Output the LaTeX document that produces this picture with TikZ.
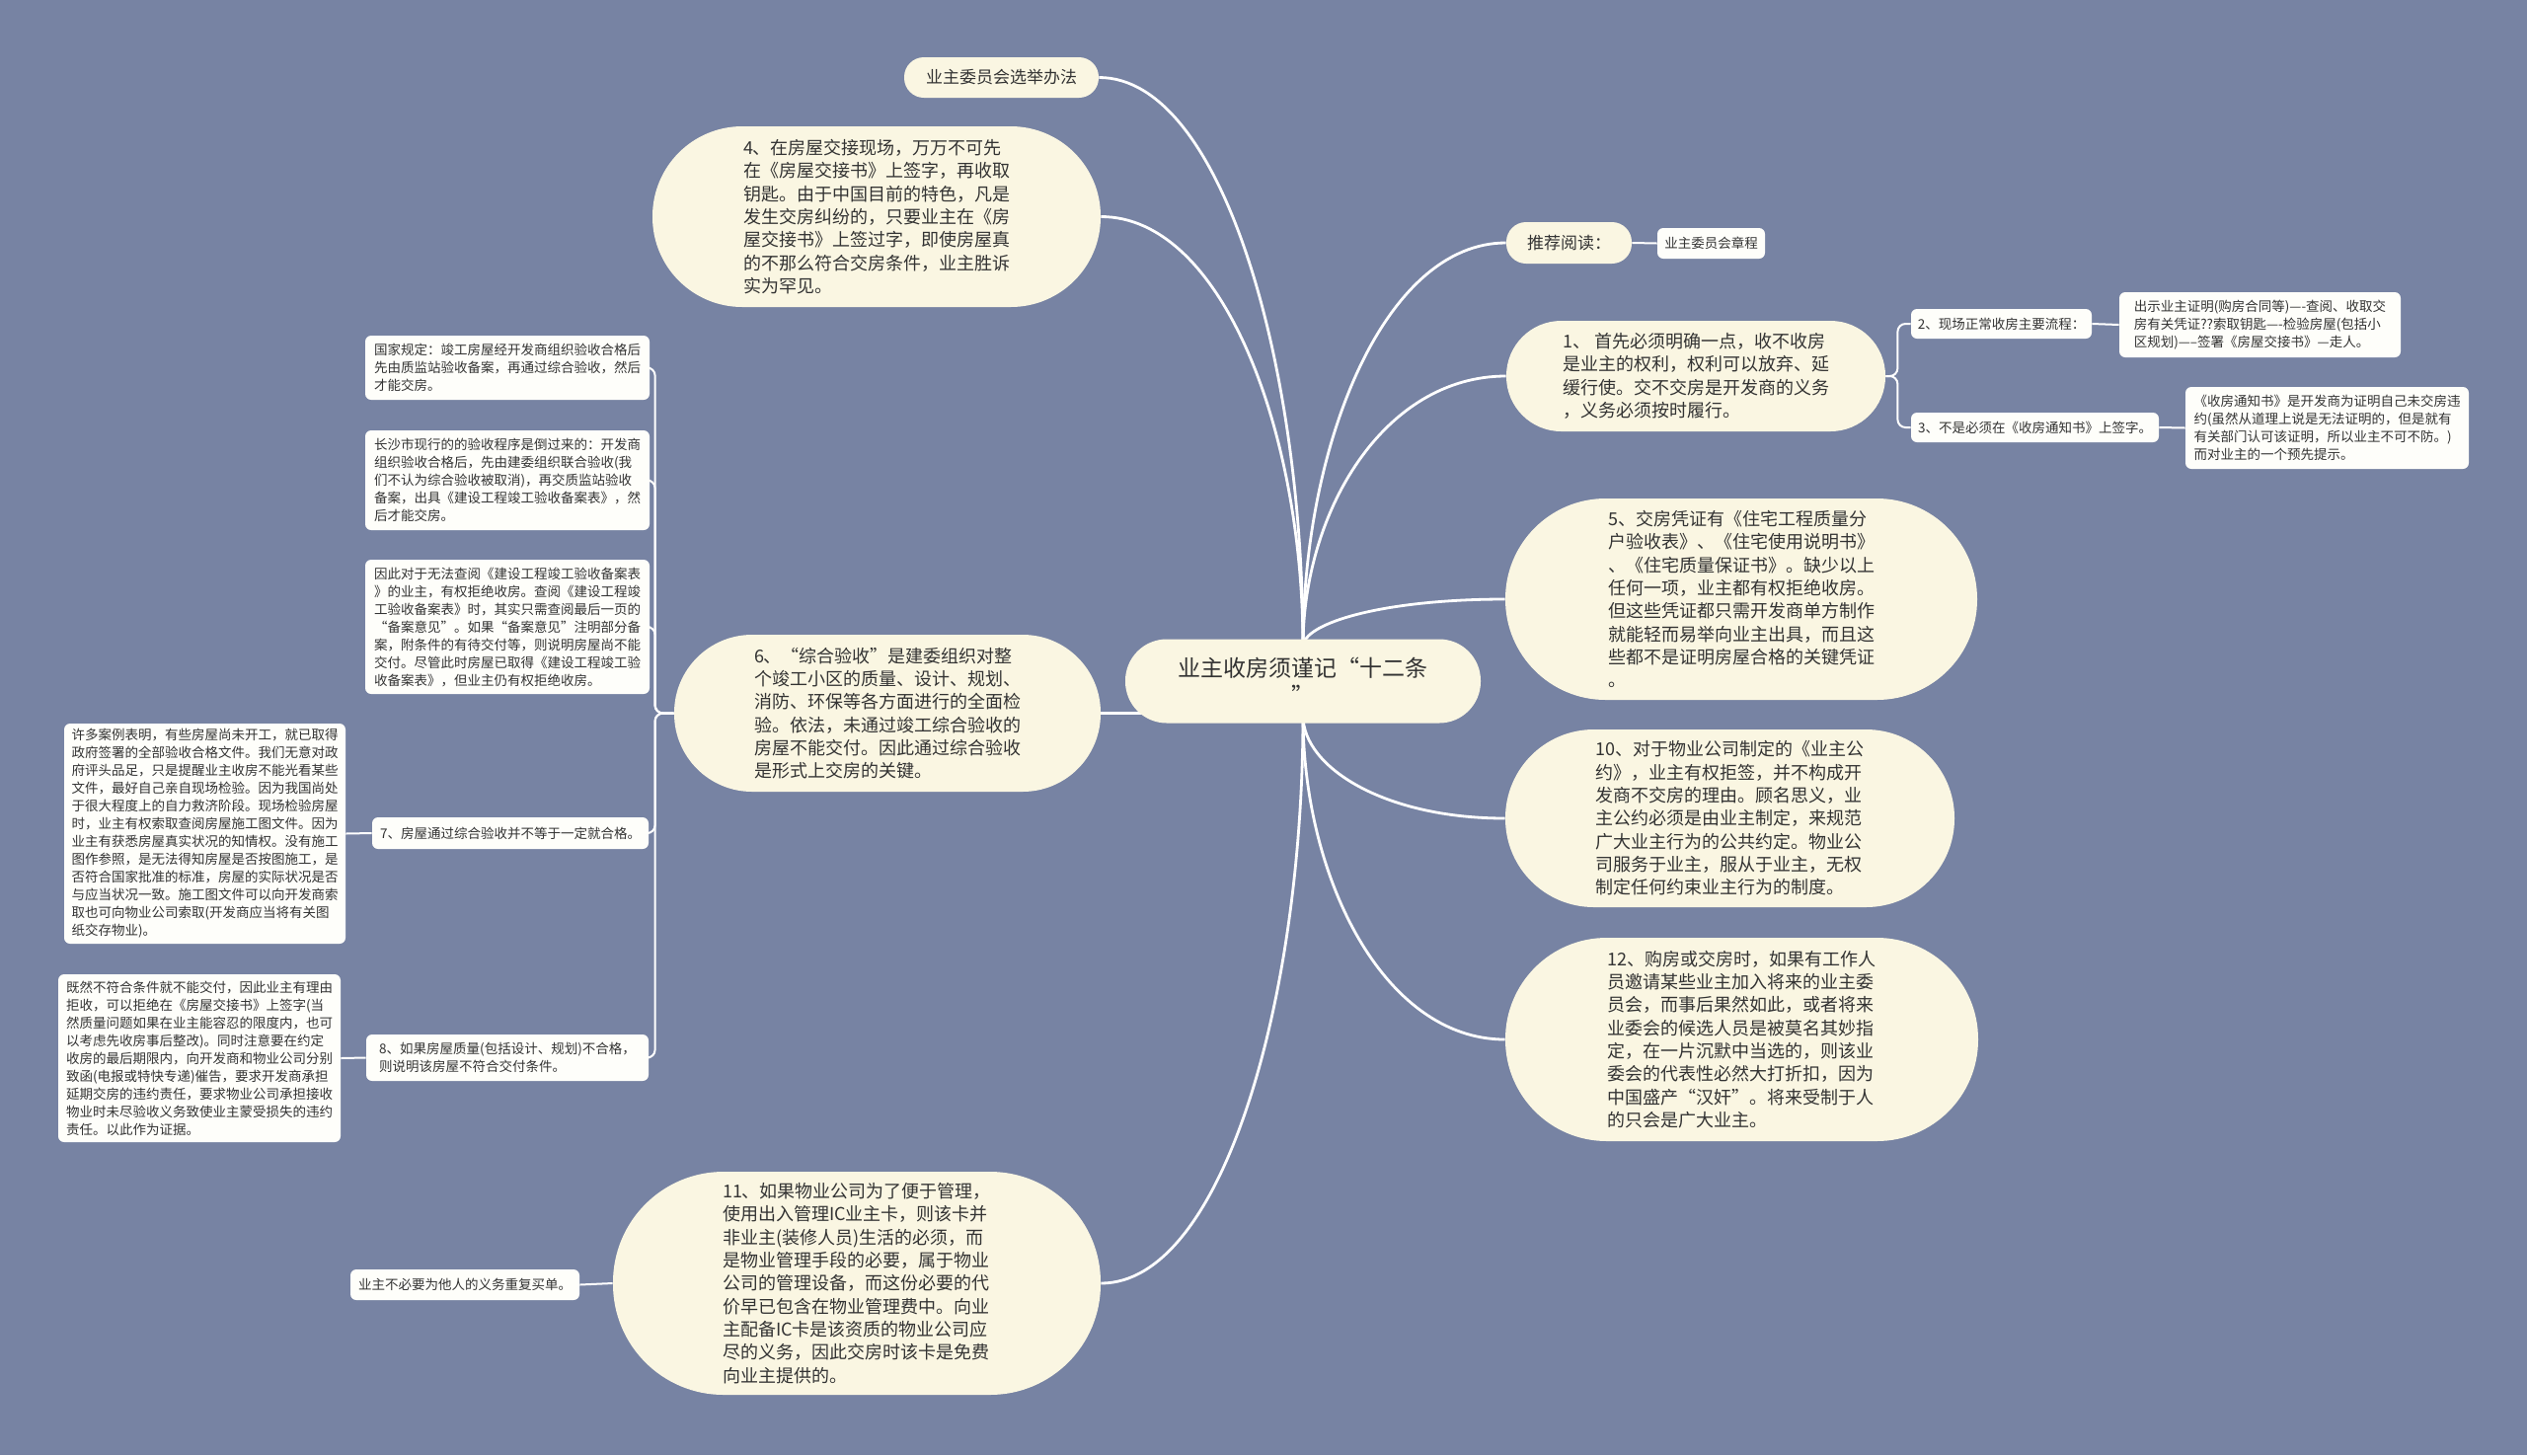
\documentclass[tikz,border=0pt]{standalone}
\usepackage{fontspec}
\setmainfont{Noto Sans CJK SC}
\newfontfamily\cjkfw[RawFeature=+fwid]{Noto Sans CJK SC}
\usetikzlibrary{calc,backgrounds}
\definecolor{bgcol}{RGB}{119,131,163}
\definecolor{capcol}{RGB}{250,246,226}
\definecolor{leafcol}{RGB}{254,254,250}
\definecolor{txtcol}{RGB}{51,51,51}
\newcommand{\fwq}[1]{{\cjkfw #1}}
\newcommand{\mcurve}[2]{\draw[mainline] (#1) .. controls ($(#1)!0.5!(#1|-#2)$) and ($(#2)!0.6!(#2-|#1)$) .. (#2);}
\begin{document}
\begin{tikzpicture}[x=0.5pt,y=-0.5pt,
 capsule/.style={fill=capcol,text=txtcol,align=left,inner sep=0pt,font=\fontsize{9}{11.67}\selectfont},
 smallcap/.style={fill=capcol,text=txtcol,align=center,inner sep=0pt,font=\fontsize{8.5}{10}\selectfont},
 leaf/.style={fill=leafcol,text=txtcol,align=left,inner sep=0pt,rounded corners=3pt,font=\fontsize{6.75}{9}\selectfont},
 mainline/.style={draw=white,line width=1.4pt},
 subline/.style={draw=white,line width=1pt,rounded corners=4pt},
]
\useasboundingbox (0,0) rectangle (2560,1474);

% center
\node[fill=capcol,text=txtcol,align=center,inner sep=0pt,font=\fontsize{11.5}{14}\selectfont,
  minimum width=180pt,minimum height=42.5pt,rounded corners=21pt] (c) at (1320,690)
  {业主收房须谨记\fwq{“}十二条\\\fwq{”}};

% left capsules
\node[smallcap,minimum width=98.5pt,minimum height=20.5pt,rounded corners=10pt] (vote) at (1014.5,78.5) {业主委员会选举办法};
\node[capsule,minimum width=227pt,minimum height=91.5pt,rounded corners=45.5pt] (n4) at (888,219.5)
 {4、在房屋交接现场，万万不可先\\在《房屋交接书》上签字，再收取\\钥匙。由于中国目前的特色，凡是\\发生交房纠纷的，只要业主在《房\\屋交接书》上签过字，即使房屋真\\的不那么符合交房条件，业主胜诉\\实为罕见。};
\node[capsule,minimum width=216pt,minimum height=79.5pt,rounded corners=39.5pt] (n6) at (899,722.5)
 {6、\fwq{“}综合验收\fwq{”}是建委组织对整\\个竣工小区的质量、设计、规划、\\消防、环保等各方面进行的全面检\\验。依法，未通过竣工综合验收的\\房屋不能交付。因此通过综合验收\\是形式上交房的关键。};
\node[capsule,minimum width=247pt,minimum height=113pt,rounded corners=56pt] (n11) at (868,1300)
 {11、如果物业公司为了便于管理，\\使用出入管理IC业主卡，则该卡并\\非业主(装修人员)生活的必须，而\\是物业管理手段的必要，属于物业\\公司的管理设备，而这份必要的代\\价早已包含在物业管理费中。向业\\主配备IC卡是该资质的物业公司应\\尽的义务，因此交房时该卡是免费\\向业主提供的。};

% right capsules
\node[smallcap,minimum width=63.5pt,minimum height=21pt,rounded corners=10pt] (read) at (1589.5,246) {推荐阅读：};
\node[capsule,minimum width=192pt,minimum height=56pt,rounded corners=27.8pt] (n1) at (1718,381)
 {1、 首先必须明确一点，收不收房\\是业主的权利，权利可以放弃、延\\缓行使。交不交房是开发商的义务\\，义务必须按时履行。};
\node[capsule,minimum width=239pt,minimum height=102pt,rounded corners=50.8pt] (n5) at (1764,607)
 {5、交房凭证有《住宅工程质量分\\户验收表》、《住宅使用说明书》\\、《住宅质量保证书》。缺少以上\\任何一项，业主都有权拒绝收房。\\但这些凭证都只需开发商单方制作\\就能轻而易举向业主出具，而且这\\些都不是证明房屋合格的关键凭证\\。};
\node[capsule,minimum width=227.5pt,minimum height=90pt,rounded corners=44.8pt] (n10) at (1752.5,829)
 {10、对于物业公司制定的《业主公\\约》，业主有权拒签，并不构成开\\发商不交房的理由。顾名思义，业\\主公约必须是由业主制定，来规范\\广大业主行为的公共约定。物业公\\司服务于业主，服从于业主，无权\\制定任何约束业主行为的制度。};
\node[capsule,minimum width=239.5pt,minimum height=103pt,rounded corners=51.3pt] (n12) at (1764.5,1053)
 {12、购房或交房时，如果有工作人\\员邀请某些业主加入将来的业主委\\员会，而事后果然如此，或者将来\\业委会的候选人员是被莫名其妙指\\定，在一片沉默中当选的，则该业\\委会的代表性必然大打折扣，因为\\中国盛产\fwq{“}汉奸\fwq{”}。将来受制于人\\的只会是广大业主。};

% right leaves
\node[leaf,minimum width=54.5pt,minimum height=15.5pt] (zc) at (1733.5,246.5) {业主委员会章程};
\node[leaf,minimum width=91.5pt,minimum height=15pt] (l2) at (2027.5,328) {2、现场正常收房主要流程：};
\node[leaf,minimum width=142.5pt,minimum height=33pt] (l2a) at (2289.5,329)
 {出示业主证明(购房合同等)----查阅、收取交\\房有关凭证??索取钥匙----检验房屋(包括小\\区规划)-----签署《房屋交接书》---走人。};
\node[leaf,minimum width=125.5pt,minimum height=15pt] (l3) at (2061.5,433) {3、不是必须在《收房通知书》上签字。};
\node[leaf,minimum width=143.5pt,minimum height=41.5pt] (l3a) at (2357.5,433.5)
 {《收房通知书》是开发商为证明自己未交房违\\约(虽然从道理上说是无法证明的，但是就有\\有关部门认可该证明，所以业主不可不防。)\\而对业主的一个预先提示。};

% left leaves
\node[leaf,minimum width=144pt,minimum height=32.5pt] (A) at (514,372.5)
 {国家规定：竣工房屋经开发商组织验收合格后\\先由质监站验收备案，再通过综合验收，然后\\才能交房。};
\node[leaf,minimum width=144pt,minimum height=50.5pt] (B) at (514,486.5)
 {长沙市现行的的验收程序是倒过来的：开发商\\组织验收合格后，先由建委组织联合验收(我\\们不认为综合验收被取消)，再交质监站验收\\备案，出具《建设工程竣工验收备案表》，然\\后才能交房。};
\node[leaf,minimum width=144pt,minimum height=68pt] (C) at (514,635)
 {因此对于无法查阅《建设工程竣工验收备案表\\》的业主，有权拒绝收房。查阅《建设工程竣\\工验收备案表》时，其实只需查阅最后一页的\\\fwq{“}备案意见\fwq{”}。如果\fwq{“}备案意见\fwq{”}注明部分备\\案，附条件的有待交付等，则说明房屋尚不能\\交付。尽管此时房屋已取得《建设工程竣工验\\收备案表》，但业主仍有权拒绝收房。};
\node[leaf,minimum width=140pt,minimum height=16pt] (D) at (517,844) {7、房屋通过综合验收并不等于一定就合格。};
\node[leaf,minimum width=142.5pt,minimum height=111.5pt] (E) at (207.5,844.5)
 {许多案例表明，有些房屋尚未开工，就已取得\\政府签署的全部验收合格文件。我们无意对政\\府评头品足，只是提醒业主收房不能光看某些\\文件，最好自己亲自现场检验。因为我国尚处\\于很大程度上的自力救济阶段。现场检验房屋\\时，业主有权索取查阅房屋施工图文件。因为\\业主有获悉房屋真实状况的知情权。没有施工\\图作参照，是无法得知房屋是否按图施工，是\\否符合国家批准的标准，房屋的实际状况是否\\与应当状况一致。施工图文件可以向开发商索\\取也可向物业公司索取(开发商应当将有关图\\纸交存物业)。};
\node[leaf,minimum width=143pt,minimum height=23.5pt] (F) at (514,1071.5)
 {8、如果房屋质量(包括设计、规划)不合格，\\则说明该房屋不符合交付条件。};
\node[leaf,minimum width=143pt,minimum height=85pt] (G) at (202,1072)
 {既然不符合条件就不能交付，因此业主有理由\\拒收，可以拒绝在《房屋交接书》上签字(当\\然质量问题如果在业主能容忍的限度内，也可\\以考虑先收房事后整改)。同时注意要在约定\\收房的最后期限内，向开发商和物业公司分别\\致函(电报或特快专递)催告，要求开发商承担\\延期交房的违约责任，要求物业公司承担接收\\物业时未尽验收义务致使业主蒙受损失的违约\\责任。以此作为证据。};
\node[leaf,minimum width=116pt,minimum height=15.5pt] (H) at (471,1301.5) {业主不必要为他人的义务重复买单。};

\begin{pgfonlayer}{background}
\fill[bgcol] (0,0) rectangle (2560,1474);
\coordinate (ct) at (1320,655);
\coordinate (cb) at (1320,725);
\mcurve{ct}{vote.east}
\mcurve{ct}{n4.east}
\mcurve{ct}{read.west}
\mcurve{ct}{n1.west}
\mcurve{ct}{n5.west}
\mcurve{cb}{n10.west}
\mcurve{cb}{n12.west}
\mcurve{cb}{n11.east}
\draw[mainline] (n6.east) -- (n6.east -| c.center);
% sub branches
\draw[subline] (read.east) -- (zc.west);
\coordinate (j1) at ($(n1.east)+(12,0)$);
\draw[subline] (n1.east) -- (j1) |- (l2.west);
\draw[subline] (n1.east) -- (j1) |- (l3.west);
\draw[subline] (l2.east) -- (l2a.west);
\draw[subline] (l3.east) -- (l3a.west);
\coordinate (j6) at ($(n6.west)+(-19,0)$);
\draw[subline] (n6.west) -- (j6) |- (A.east);
\draw[subline] (n6.west) -- (j6) |- (B.east);
\draw[subline] (n6.west) -- (j6) |- (C.east);
\draw[subline] (n6.west) -- (j6) |- (D.east);
\draw[subline] (n6.west) -- (j6) |- (F.east);
\draw[subline] (E.east) -- (D.west);
\draw[subline] (G.east) -- (F.west);
\draw[subline] (H.east) -- (n11.west);
\end{pgfonlayer}
\end{tikzpicture}
\end{document}
